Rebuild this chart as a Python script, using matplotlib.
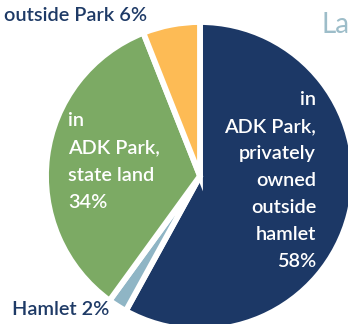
import matplotlib
matplotlib.use("Agg")
import matplotlib.pyplot as plt

# Data
categories = ["in ADK Park, privately owned outside hamlet", "Hamlet",
              "in ADK Park, state land", "outside Park"]
shares = [58, 2, 34, 6]
colors = ["#1c3866", "#8fb5c5", "#7caa64", "#fdbb55"]

title_text = "La"
navy_label = ["in", "ADK Park,", "privately", "owned", "outside", "hamlet", "58%"]
green_label = ["in", "ADK Park,", "state land", "34%"]
outside_label = "outside Park 6%"
hamlet_label = "Hamlet 2%"

W, H = 348, 324
fig = plt.figure(figsize=(W / 100, H / 100), dpi=100)
ax = fig.add_axes([0, 0, 1, 1])

def py(y):
    return H - y

ax.pie(shares, colors=colors, startangle=90, counterclock=False,
       center=(200, py(176)), radius=154,
       wedgeprops=dict(edgecolor="white", linewidth=4.2))
ax.set_xlim(0, W)
ax.set_ylim(0, H)
ax.set_aspect("equal")
ax.axis("off")

font = "Lato"
txt_navy = "#1e3a66"
fs = 14.3
fw = "semibold"

# navy slice label, right aligned
for i, line in enumerate(navy_label):
    ax.text(316, py(105 + i * 27), line, ha="right", va="baseline",
            color="white", fontsize=fs, family=font, fontweight=fw)

# green slice label, left aligned
for i, line in enumerate(green_label):
    ax.text(68, py(126 + i * 27.3), line, ha="left", va="baseline",
            color="white", fontsize=fs, family=font, fontweight=fw)

ax.text(147, py(21), outside_label, ha="right", va="baseline",
        color=txt_navy, fontsize=fs, family=font, fontweight=fw)
ax.text(12, py(315), hamlet_label, ha="left", va="baseline",
        color=txt_navy, fontsize=fs, family=font, fontweight=fw)
ax.text(321, py(33), title_text, ha="left", va="baseline",
        color="#9dbdc9", fontsize=20, family=font)

fig.savefig("out.png", dpi=100)
